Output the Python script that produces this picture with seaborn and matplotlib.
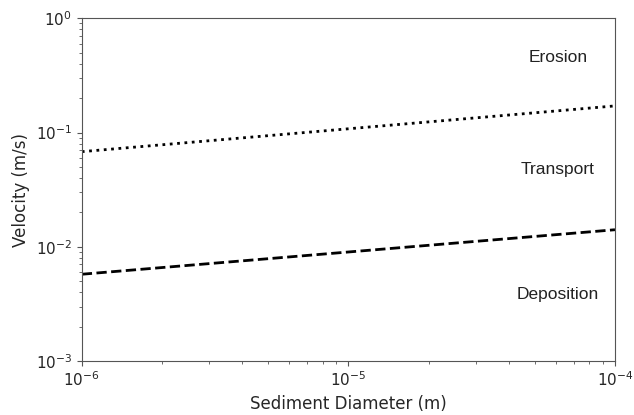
import seaborn as sns
import matplotlib.pyplot as plt
import pandas as pd

# boundary lines (log-log straight lines, endpoints)
diameter = [1e-6, 1e-4]
erosion_threshold = [0.068, 0.171]
deposition_threshold = [0.00575, 0.0141]

zone_labels = ["Erosion", "Transport", "Deposition"]
zone_x = [6.1e-5, 6.1e-5, 6.1e-5]
zone_y = [0.45, 0.047, 0.0038]

df = pd.DataFrame({
    "diameter": diameter * 2,
    "velocity": erosion_threshold + deposition_threshold,
    "line": ["erosion"] * 2 + ["deposition"] * 2,
})

sns.set_style("ticks")
plt.rcParams["font.family"] = ["DejaVu Sans"]

fig = plt.figure(figsize=(6.34, 4.15), dpi=100)
ax = fig.add_axes([0.129, 0.130, 0.841, 0.826])

sns.lineplot(data=df[df.line == "erosion"], x="diameter", y="velocity",
             color="black", linestyle=":", linewidth=2, ax=ax)
sns.lineplot(data=df[df.line == "deposition"], x="diameter", y="velocity",
             color="black", linestyle="--", linewidth=2, ax=ax)

for lab, x, y in zip(zone_labels, zone_x, zone_y):
    ax.text(x, y, lab, ha="center", va="center", fontsize=12.5,
            color="#222222", family=["Liberation Sans", "DejaVu Sans"])

ax.set_xscale("log")
ax.set_yscale("log")
ax.set_xlim(1e-6, 1e-4)
ax.set_ylim(1e-3, 1)
ax.set_xlabel("Sediment Diameter (m)", fontsize=12)
ax.set_ylabel("Velocity (m/s)", fontsize=12)
ax.tick_params(labelsize=11)
for s in ax.spines.values():
    s.set_visible(True)
    s.set_color("#555555")
ax.tick_params(which="both", color="#555555")

plt.savefig("out.png", dpi=100)
plt.close()
